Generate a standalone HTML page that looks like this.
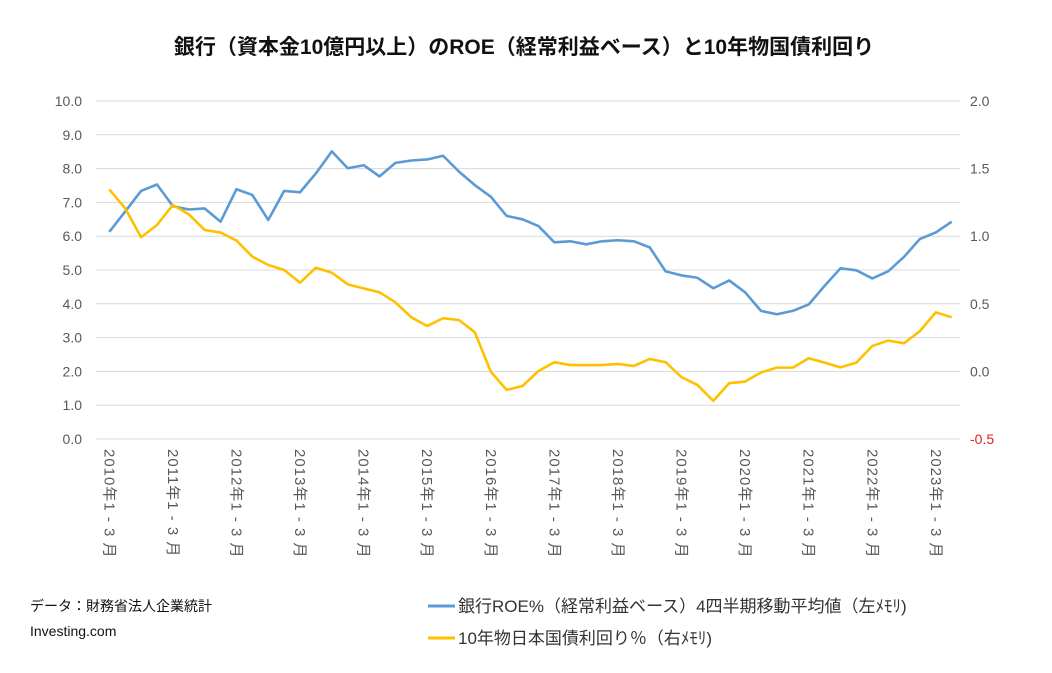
<!DOCTYPE html>
<html><head><meta charset="utf-8"><style>
body{margin:0;background:#fff;width:1052px;height:668px;overflow:hidden;font-family:"Liberation Sans","Noto Sans CJK JP",sans-serif}
svg text{font-family:"Liberation Sans","Noto Sans CJK JP",sans-serif}
</style></head><body>
<svg id="chart" width="1052" height="668" xmlns="http://www.w3.org/2000/svg">
<text x="524" y="54" text-anchor="middle" font-size="21" font-weight="bold" fill="#111">銀行（資本金10億円以上）のROE（経常利益ベース）と10年物国債利回り</text>
<g id="grid"></g><g id="xlabels"></g><g id="series"></g>
<text x="30" y="611" font-size="14" fill="#111">データ：財務省法人企業統計</text>
<text x="30" y="636" font-size="14" fill="#111">Investing.com</text>
<g>
<line x1="428" y1="606" x2="455" y2="606" stroke="#5b9bd5" stroke-width="3"/>
<text x="458" y="612" font-size="17" fill="#333">銀行ROE%（経常利益ベース）4四半期移動平均値（左ﾒﾓﾘ)</text>
<line x1="428" y1="638" x2="455" y2="638" stroke="#ffc000" stroke-width="3"/>
<text x="458" y="644" font-size="17" fill="#333">10年物日本国債利回り％（右ﾒﾓﾘ)</text>
</g>
</svg>
<script>
const years=["2010","2011","2012","2013","2014","2015","2016","2017","2018","2019","2020","2021","2022","2023"];
const leftTicks=[0,1,2,3,4,5,6,7,8,9,10];
const rightTicks=[-0.5,0,0.5,1,1.5,2];
const roe=[6.13,6.73,7.34,7.53,6.89,6.79,6.82,6.43,7.39,7.22,6.48,7.34,7.30,7.86,8.51,8.01,8.10,7.77,8.17,8.24,8.27,8.38,7.91,7.51,7.17,6.60,6.50,6.30,5.82,5.85,5.76,5.85,5.88,5.85,5.67,4.96,4.84,4.77,4.46,4.69,4.34,3.79,3.69,3.79,3.98,4.53,5.05,4.99,4.75,4.96,5.39,5.92,6.11,6.43];
const jgb=[1.346,1.206,0.992,1.083,1.231,1.162,1.046,1.027,0.968,0.849,0.787,0.750,0.656,0.767,0.730,0.644,0.614,0.585,0.511,0.400,0.336,0.393,0.380,0.289,-0.002,-0.137,-0.108,0.003,0.068,0.047,0.047,0.047,0.055,0.040,0.092,0.068,-0.043,-0.100,-0.218,-0.087,-0.075,-0.008,0.028,0.028,0.097,0.065,0.030,0.065,0.188,0.228,0.208,0.299,0.437,0.400];
const NS="http://www.w3.org/2000/svg";
const x0=96,x1=960,yTop=101,yBot=439;
const xi=i=>109.3+i*15.895;
const yL=v=>yBot-(v/10)*(yBot-yTop);
const yR=v=>yBot-((v+0.5)/2.5)*(yBot-yTop);
function mk(tag,attrs,parent){const e=document.createElementNS(NS,tag);for(const k in attrs)e.setAttribute(k,attrs[k]);parent.appendChild(e);return e;}
const grid=document.getElementById('grid');
leftTicks.forEach(t=>{
  const l=mk('line',{x1:x0,x2:x1,y1:yL(t),y2:yL(t),stroke:'#d9d9d9','stroke-width':1},grid);
  
  
  const tx=mk('text',{x:82,y:yL(t)+5,'text-anchor':'end','font-size':14,fill:'#595959'},grid);
  
  
  tx.textContent=t.toFixed(1);
});
rightTicks.forEach(t=>{
  const tx=mk('text',{x:970,y:yR(t)+5,'font-size':14,fill:t<0?'#e02020':'#595959'},grid);
  
  
  tx.textContent=t.toFixed(1);
});
const xl=document.getElementById('xlabels');
years.forEach((y,k)=>{
  const tx=mk('text',{x:xi(k*4),y:454,'font-size':15,'letter-spacing':1,fill:'#595959'},xl);
  
  
  tx.setAttribute('transform',`rotate(90 ${xi(k*4)} 449)`);
  tx.textContent=y+'年1 - 3 月';
});
const sg=document.getElementById('series');
const p1=mk('polyline',{points:roe.map((v,i)=>xi(i)+','+yL(v)).join(' '),fill:'none',stroke:'#5b9bd5','stroke-width':2.6,'stroke-linejoin':'round'},sg);


const p2=mk('polyline',{points:jgb.map((v,i)=>xi(i)+','+yR(v)).join(' '),fill:'none',stroke:'#ffc000','stroke-width':2.6,'stroke-linejoin':'round'},sg);


</script>
</body></html>
